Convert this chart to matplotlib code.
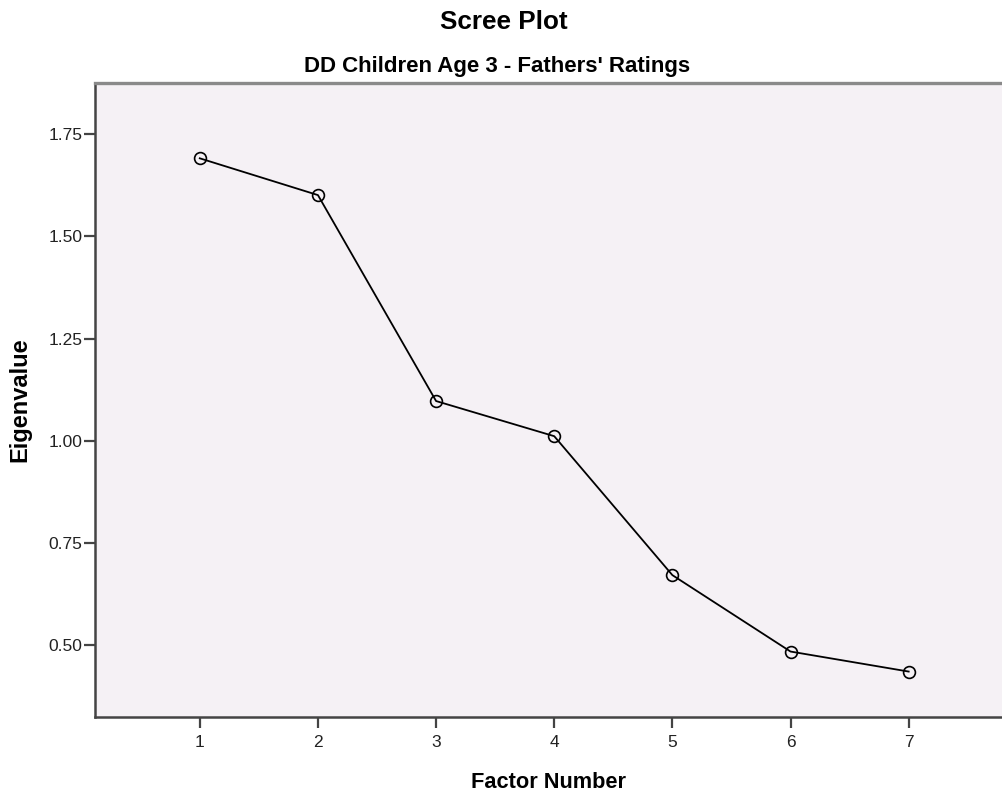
import matplotlib
matplotlib.use("Agg")
import matplotlib.pyplot as plt

plt.rcParams['font.family'] = ['Liberation Sans', 'DejaVu Sans']

factors = [1, 2, 3, 4, 5, 6, 7]
eigenvalues = [1.691, 1.601, 1.097, 1.011, 0.671, 0.484, 0.435]
y_ticks = [0.50, 0.75, 1.00, 1.25, 1.50, 1.75]
y_tick_labels = ["0.50", "0.75", "1.00", "1.25", "1.50", "1.75"]

fig = plt.figure(figsize=(10.02, 7.95), dpi=100)
ax = fig.add_axes([0.0948, 0.0977, 0.9052, 0.798])
ax.set_facecolor("#F5F1F5")

ax.plot(factors, eigenvalues, color="black", linewidth=1.3,
        marker="o", markersize=8.5, markerfacecolor="none",
        markeredgecolor="black", markeredgewidth=1.2)

ax.set_xlim(0.113, 7.79)
ax.set_ylim(0.323, 1.8755)
ax.set_xticks(factors)
ax.set_xticklabels([str(f) for f in factors])
ax.set_yticks(y_ticks)
ax.set_yticklabels(y_tick_labels)

for side in ("left", "bottom"):
    ax.spines[side].set_color("#444444")
    ax.spines[side].set_linewidth(1.8)
ax.spines["top"].set_color("#8a8a8a")
ax.spines["top"].set_linewidth(2.4)
ax.spines["right"].set_visible(False)

ax.tick_params(axis="both", direction="out", length=8, width=1.6,
               color="#444444", labelsize=12.5, labelcolor="#222222")
ax.tick_params(axis="y", pad=1)
ax.tick_params(axis="x", pad=5)

ax.set_xlabel("Factor Number", fontsize=15.7, fontweight="bold")
ax.set_ylabel("Eigenvalue", fontsize=17, fontweight="bold")
ax.xaxis.set_label_coords(0.5, -0.0855)
ax.yaxis.set_label_coords(-0.0706, 0.5)

fig.text(0.503, 1 - 21.7 / 795, "Scree Plot", ha="center", va="center",
         fontsize=18.8, fontweight="bold")
fig.text(0.496, 1 - 66.5 / 795, "DD Children Age 3 - Fathers' Ratings",
         ha="center", va="center", fontsize=16, fontweight="bold")

fig.savefig("out.png", dpi=100)
